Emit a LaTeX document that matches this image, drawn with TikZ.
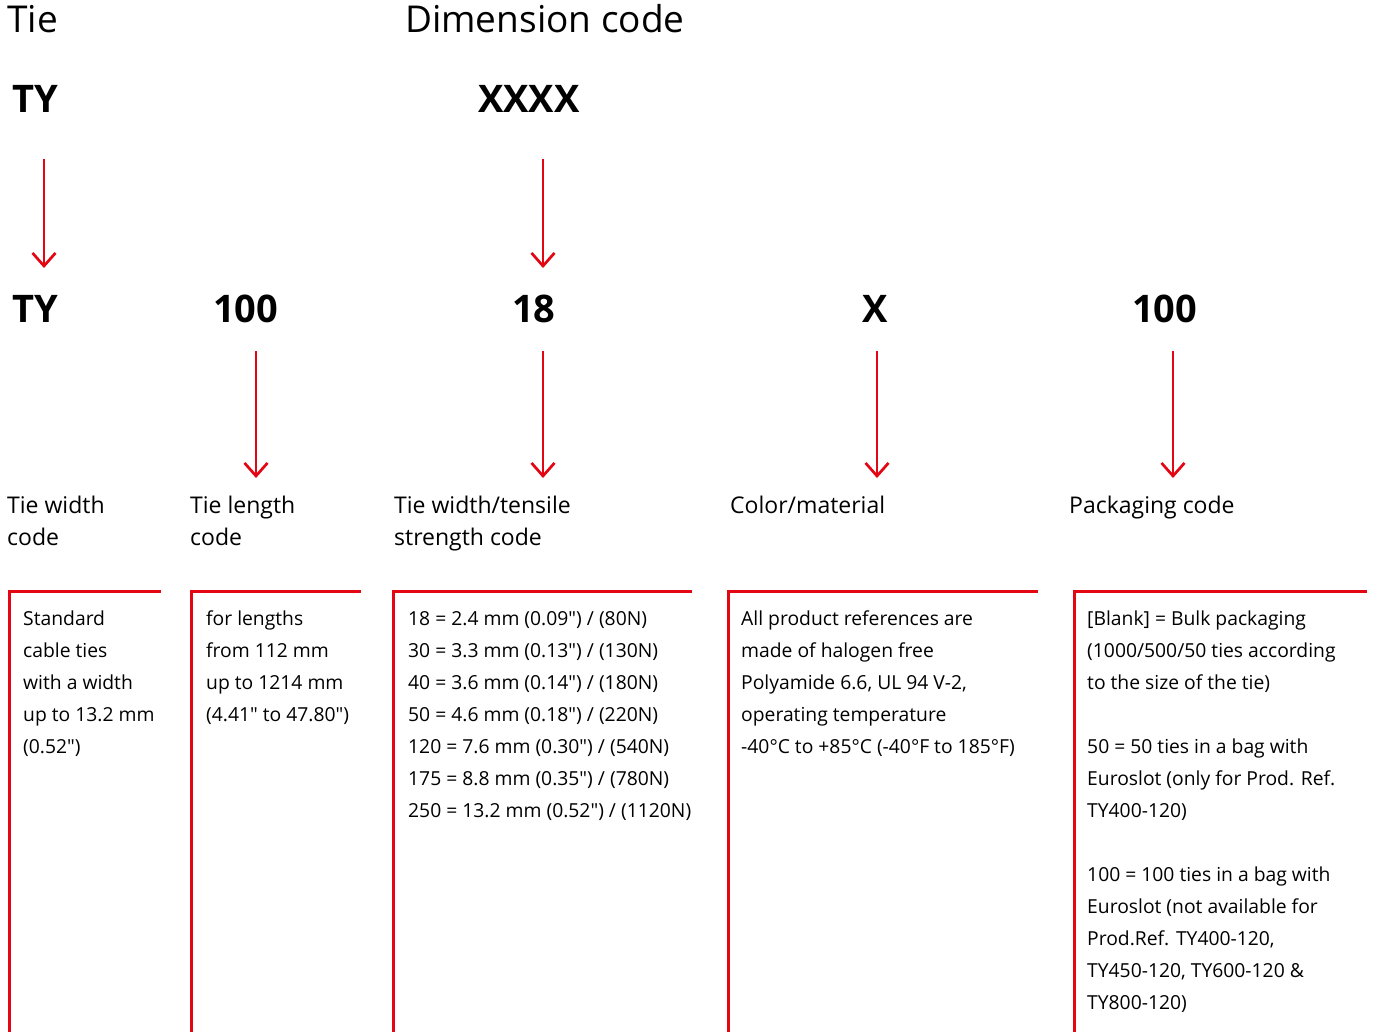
\documentclass[tikz,border=0pt]{standalone}
\usepackage{fontspec}
\setmainfont{Open Sans}[Ligatures=TeXOff]
\usetikzlibrary{arrows.meta}
\definecolor{abbred}{RGB}{227,6,19}
\newcommand\dq{\char34\relax}
\begin{document}
\begin{tikzpicture}[x=1pt,y=-1pt,
 title/.style={anchor=base west,inner sep=0,font=\fontsize{37}{40}\selectfont},
 code/.style={anchor=base west,inner sep=0,font=\fontsize{38}{40}\selectfont\bfseries},
 lab/.style={anchor=base west,inner sep=0,align=left,font=\fontsize{23}{32}\selectfont},
 desc/.style={anchor=base west,inner sep=0,align=left,font=\fontsize{19.3}{32}\selectfont},
 arr/.style={abbred,line width=2.7pt,-{Straight Barb[length=13pt,width=23pt,line width=2.7pt]}},
 frame/.style={abbred,line width=3pt}]
\useasboundingbox (0,0) rectangle (1378,1032);
% titles
\node[title] (t1) at (7,33) {Tie};
\node[title] (t2) at (405,33) {Dimension code};
% top codes
\node[code] (c1) at (12,113) {TY};
\node[code] (c2) at (478,113) {XXXX};
% second row codes
\node[code] (d1) at (12,322) {TY};
\node[code] (d2) at (213,322) {100};
\node[code] (d3) at (512,322) {18};
\node[code] (d4) at (862,322) {X};
\node[code] (d5) at (1132,322) {100};
% arrow coordinates
\coordinate (a1s) at (44,159);  \coordinate (a1e) at (44,268);
\coordinate (a2s) at (543,159); \coordinate (a2e) at (543,268);
\coordinate (b1s) at (256,351); \coordinate (b1e) at (256,478);
\coordinate (b2s) at (543,351); \coordinate (b2e) at (543,478);
\coordinate (b3s) at (877,351); \coordinate (b3e) at (877,478);
\coordinate (b4s) at (1173,351); \coordinate (b4e) at (1173,478);
\draw[arr] (a1s) -- (a1e);
\draw[arr] (a2s) -- (a2e);
\draw[arr] (b1s) -- (b1e);
\draw[arr] (b2s) -- (b2e);
\draw[arr] (b3s) -- (b3e);
\draw[arr] (b4s) -- (b4e);
% labels (anchor = baseline of last line)
\node[lab] (l1) at (7,545) {Tie width\\code};
\node[lab] (l2) at (190,545) {Tie length\\code};
\node[lab] (l3) at (394,545) {Tie width/tensile\\strength code};
\node[lab] (l4) at (730,513) {Color/material};
\node[lab] (l5) at (1069,513) {Packaging code};
% frames
\draw[frame] (9,1034) -- (9,591) -- (161,591);
\draw[frame] (191,1034) -- (191,591) -- (361,591);
\draw[frame] (393,1034) -- (393,591) -- (692,591);
\draw[frame] (728,1034) -- (728,591) -- (1038,591);
\draw[frame] (1074,1034) -- (1074,591) -- (1367,591);
% descriptions (anchor = baseline of last line)
\node[desc] (p1) at (23,753) {Standard\\cable ties\\with a width\\up to 13.2 mm\\(0.52\dq)};
\node[desc] (p2) at (206,721) {for lengths\\from 112 mm\\up to 1214 mm\\(4.41\dq{} to 47.80\dq)};
\node[desc] (p3) at (408,817) {18 = 2.4 mm (0.09\dq) / (80N)\\30 = 3.3 mm (0.13\dq) / (130N)\\40 = 3.6 mm (0.14\dq) / (180N)\\50 = 4.6 mm (0.18\dq) / (220N)\\120 = 7.6 mm (0.30\dq) / (540N)\\175 = 8.8 mm (0.35\dq) / (780N)\\250 = 13.2 mm (0.52\dq) / (1120N)};
\node[desc] (p4) at (741,753) {All product references are\\made of halogen free\\Polyamide 6.6, UL 94 V-2,\\operating temperature\\-40°C to +85°C (-40°F to 185°F)};
\node[desc] (p5) at (1087,1009) {[Blank] = Bulk packaging\\(1000/500/50 ties according\\to the size of the tie)\\[32pt]50 = 50 ties in a bag with\\Euroslot (only for Prod. Ref.\\TY400-120)\\[32pt]100 = 100 ties in a bag with\\Euroslot (not available for\\Prod.Ref. TY400-120,\\TY450-120, TY600-120 \&\\TY800-120)};
\end{tikzpicture}
\end{document}
